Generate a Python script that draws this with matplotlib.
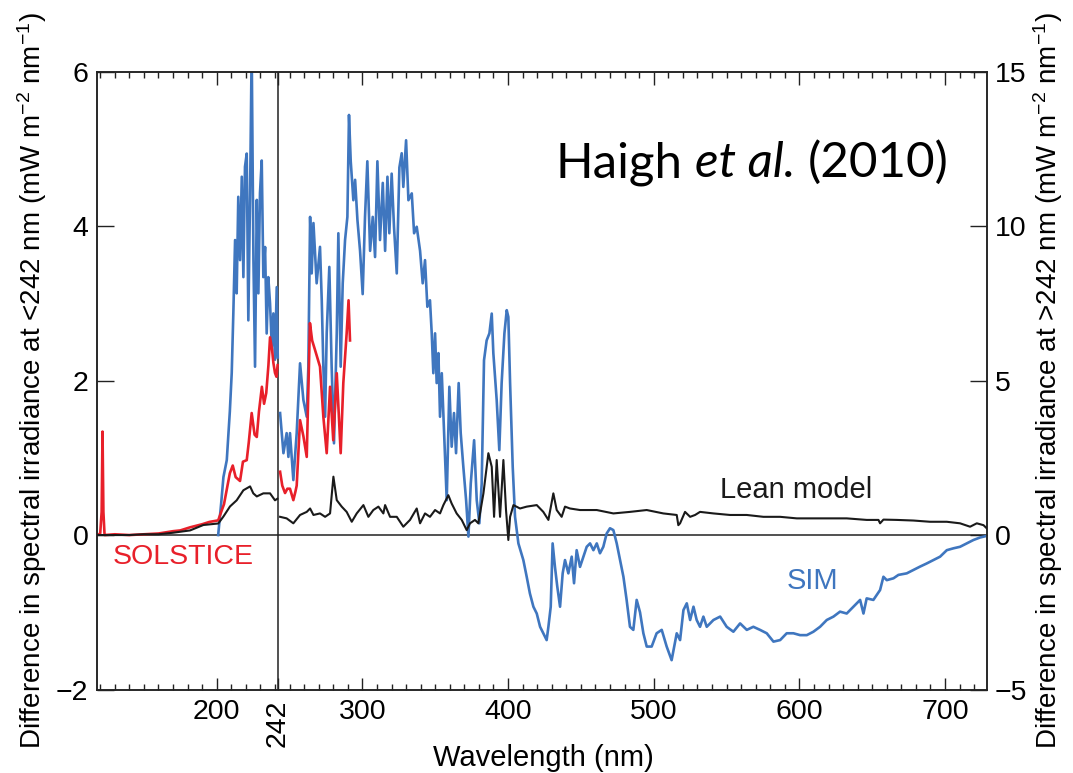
import matplotlib
matplotlib.use("Agg")
import matplotlib.pyplot as plt
from matplotlib.ticker import MultipleLocator, FixedLocator

# ---------------- data ----------------
# SOLSTICE (red), wavelengths < 242 nm, left-axis units
sol_nm_lo = [118, 120, 121.0, 121.6, 122.2, 123, 130, 140, 150, 160, 170, 175, 181.7, 190, 195, 201,
             205, 209, 211, 213, 216, 218, 220.6, 222, 224, 226, 227.5, 229, 231, 232.5, 234, 235.5,
             236.6, 238, 238.9, 240, 241, 241.8]
sol_lo = [0.0, 0.02, 0.3, 1.34, 0.3, 0.0, 0.01, 0.0, 0.01, 0.02, 0.05, 0.06, 0.1, 0.14, 0.17, 0.19,
          0.4, 0.8, 0.9, 0.75, 0.7, 0.95, 0.97, 1.2, 1.58, 1.3, 1.27, 1.6, 1.92, 1.7, 1.84, 2.2,
          2.56, 2.4, 2.23, 2.1, 2.05, 2.2]
# SOLSTICE (red), wavelengths > 242 nm, right-axis units
sol_nm_hi = [243.5, 245, 246.9, 248.5, 250.3, 252.6, 254, 254.9, 257.2, 259.5, 261.8, 264, 265.5,
             267.5, 270.9, 273.2, 275.5, 277.8, 280, 282.4, 285.1, 286.9, 289.2, 290.5, 291.5]
sol_hi = [2.05, 1.6, 1.36, 1.5, 1.5, 1.13, 1.4, 1.6, 3.72, 3.2, 2.53, 6.86, 6.3,
          5.99, 5.45, 3.83, 2.65, 4.8, 3.07, 5.24, 2.65, 4.92, 6.53, 7.6, 6.3]

# SIM (blue), < 242 nm, left-axis units
sim_nm_lo = [201.0, 203, 204.6, 206.9, 209, 210.3, 211.4, 212.6, 213.7, 214.8, 216, 217.2, 218.3,
             219.4, 220.6, 221.7, 222.9, 224.0, 225.2, 226.3, 227.5, 228.6, 229.7, 230.9, 232.0,
             233.2, 234.3, 235.4, 236.6, 237.8, 238.9, 240.0, 241.2, 241.9]
sim_lo = [0.0, 0.4, 0.75, 0.97, 1.6, 2.1, 2.87, 3.82, 3.13, 4.38, 3.56, 4.64, 3.34,
          4.77, 4.94, 2.78, 4.43, 6.3, 3.56, 2.18, 4.34, 3.13, 4.43, 4.85, 3.34,
          3.73, 2.61, 3.34, 3.0, 2.44, 2.87, 2.27, 3.21, 2.3]
# SIM (blue), > 242 nm, right-axis units
sim_nm_hi = [243.5, 245.8, 248.0, 249.2, 250.3, 252.6, 254.9, 257.2, 259.5, 261.8, 262.9, 264.1,
             265.2, 266.4, 268.6, 270.9, 272.1, 273.2, 274.4, 275.5, 277.3, 278.9, 280.5, 282.4,
             283.5, 285.1, 286.5, 288.1, 289.7, 290.8, 292.0, 293.8, 295.0, 296.6, 298.4, 300.2,
             301.8, 303.4, 305.3, 307.1, 308.7, 310.3, 312.1, 314.0, 315.6, 317.2, 318.5, 320.1,
             321.7, 323.6, 325.4, 327.0, 328.1, 330.0, 331.6, 333.9, 335.5, 337.3, 339.6, 341.4,
             343.0, 344.6, 346.4, 347.6, 348.7, 349.9, 351.0, 352.2, 353.3, 354.5, 356.1, 357.9,
             359.7, 361.3, 362.9, 364.3, 366.1, 367.5, 369.3, 371.2, 372.8, 374.4, 376.7, 378.5,
             380.3, 381.9, 383.5, 385.3, 387.2, 388.8, 389.9, 392.2, 394.0, 395.6, 397.5, 399.1,
             400.2, 401.4, 403.2, 404.8, 407.1, 410.5, 412.8, 415.0, 417.4, 419.7, 422.0, 424.2,
             426.5, 427.7, 429.3, 430.6, 432.2, 433.8, 435.7, 437.5, 439.1, 441.4, 443.7, 445.3,
             447.1, 449.4, 451.7, 454.0, 456.3, 458.6, 460.9, 463.1, 465.4, 467.7, 470.0, 472.3,
             474.6, 476.9, 479.2, 481.4, 483.7, 486.0, 488.3, 490.6, 492.9, 495.2, 498.6, 502.0,
             505.5, 508.9, 512.3, 515.8, 518.1, 520.4, 522.7, 525.0, 527.3, 529.5, 531.8, 534.1,
             536.4, 538.7, 541.0, 545.6, 550.1, 554.7, 559.3, 563.9, 568.4, 573.0, 577.6, 582.2,
             586.8, 591.3, 595.9, 600.5, 605.1, 609.6, 614.2, 618.8, 623.4, 627.9, 632.5, 637.1,
             641.7, 644.0, 646.2, 650.8, 655.4, 657.7, 660.0, 664.6, 668.0, 673.7, 678.3, 682.9,
             687.4, 692.0, 696.6, 701.2, 705.7, 710.3, 714.9, 719.5, 724.0, 727.5]
sim_hi = [3.95, 2.65, 3.3, 2.53, 3.3, 1.78, 3.3, 5.56, 4.37, 3.83, 5.45, 10.3,
          8.47, 10.1, 8.15, 9.33, 7.6, 5.45, 3.83, 6.53, 8.68, 5.45, 2.97, 6.53,
          9.77, 5.45, 8.15, 9.55, 10.3, 13.6, 12.1, 10.84, 11.5, 10.2, 9.2, 7.8,
          10.3, 12.1, 9.2, 10.3, 9.0, 12.1, 9.55, 11.4, 9.2, 11.6, 9.77, 11.7,
          9.98, 8.47, 11.9, 12.36, 11.27, 12.78, 10.84, 11.06, 9.77, 9.98, 9.2, 8.15,
          8.9, 7.39, 7.6, 6.53, 5.24, 6.53, 4.92, 5.89, 3.83, 5.24, 3.3, 1.13,
          4.8, 2.86, 3.95, 2.65, 4.92, 3.3, 2.21, 1.13, -0.05, 1.67, 3.07, 1.13,
          0.38, 1.67, 5.66, 6.3, 6.53, 7.17, 5.89, 4.37, 2.75, 4.92, 6.53, 7.28,
          7.06, 4.92, 2.21, 0.59, -0.27, -0.81, -1.35, -1.89, -2.32, -2.54, -2.97, -3.18,
          -3.4, -2.97, -2.32, -0.27, -1.03, -1.67, -2.32, -1.24, -0.81, -1.24, -0.7, -1.56,
          -0.49, -1.03, -0.7, -0.38, -0.27, -0.49, -0.27, -0.59, -0.38, 0.05, 0.22, 0.16,
          -0.27, -0.81, -1.35, -2.1, -2.97, -3.07, -2.1, -2.5, -3.18, -3.61, -3.61, -3.18,
          -3.07, -3.61, -4.05, -3.18, -3.4, -2.43, -2.21, -2.75, -2.32, -2.75, -2.97, -2.64,
          -2.97, -2.86, -2.75, -2.64, -2.97, -3.13, -2.86, -3.07, -2.97, -3.07, -3.18, -3.45,
          -3.4, -3.18, -3.18, -3.24, -3.24, -3.13, -2.97, -2.75, -2.64, -2.48, -2.54, -2.32,
          -2.1, -2.54, -2.05, -2.1, -1.78, -1.35, -1.46, -1.4, -1.29, -1.24, -1.13, -1.02,
          -0.92, -0.81, -0.7, -0.49, -0.43, -0.38, -0.27, -0.16, -0.08, -0.04]

# Lean model (black), < 242 nm, left-axis units
lean_nm_lo = [118, 130, 140, 150, 160, 170, 181.7, 190.8, 201.1, 204.6, 209.1, 213.7, 218.3,
              222.9, 225.1, 227.5, 232, 236.6, 240, 241.6]
lean_lo = [0.0, 0.0, 0.0, 0.01, 0.01, 0.03, 0.06, 0.13, 0.15, 0.24, 0.37, 0.45, 0.58,
           0.63, 0.54, 0.50, 0.54, 0.54, 0.45, 0.47]
# Lean model (black), > 242 nm, right-axis units
lean_nm_hi = [243.5, 248.0, 252.6, 257.2, 261.8, 264.1, 266.4, 270.9, 274.4, 277.8, 280.1, 282.4,
              285.8, 289.2, 292.7, 296.1, 300.7, 304.1, 307.5, 311.0, 314.4, 315.6, 319.0, 323.6,
              328.1, 332.7, 337.3, 339.6, 343.0, 346.4, 349.9, 353.3, 355.6, 359.0, 361.3, 364.7,
              368.2, 371.6, 373.9, 377.3, 379.6, 383.1, 386.5, 388.8, 390.4, 392.2, 394.5, 396.8,
              398.6, 400.2, 401.4, 403.7, 408.2, 412.8, 419.7, 424.2, 427.7, 431.1, 433.4, 436.8,
              439.1, 442.5, 449.4, 460.9, 472.3, 483.7, 495.2, 506.6, 515.8, 516.9, 518.1, 521.5,
              525.0, 528.4, 531.8, 541.0, 552.4, 563.9, 575.3, 586.8, 598.2, 609.6, 621.1, 632.5,
              646.2, 654.3, 655.4, 657.7, 666.9, 678.3, 689.7, 701.2, 710.3, 717.2, 721.8, 726.4,
              728.6]
lean_hi = [0.59, 0.54, 0.38, 0.65, 0.75, 0.86, 0.65, 0.7, 0.59, 0.7, 1.89, 1.13,
           0.92, 0.75, 0.43, 0.7, 0.97, 0.59, 0.81, 0.92, 0.7, 0.97, 0.59, 0.59,
           0.27, 0.49, 0.86, 0.38, 0.7, 0.59, 0.81, 0.7, 0.97, 1.29, 1.02, 0.7,
           0.49, 0.16, 0.38, 0.49, 0.38, 1.35, 2.65, 2.21, 0.59, 2.43, 0.59, 2.43,
           0.81, -0.16, 0.59, 0.97, 0.86, 0.92, 0.97, 0.75, 0.49, 1.35, 0.81, 0.59,
           0.92, 0.86, 0.81, 0.81, 0.7, 0.75, 0.81, 0.7, 0.65, 0.32, 0.38, 0.75,
           0.59, 0.65, 0.75, 0.70, 0.65, 0.65, 0.59, 0.59, 0.54, 0.54, 0.54, 0.54,
           0.49, 0.49, 0.38, 0.5, 0.49, 0.47, 0.43, 0.43, 0.38, 0.27, 0.38, 0.32,
           0.22]

x_major = [200, 242, 300, 400, 500, 600, 700]
x_major_labels = ["200", "242", "300", "400", "500", "600", "700"]
yl_ticks = [-2, 0, 2, 4, 6]
yr_ticks = [-5, 0, 5, 10, 15]

# ---------------- style ----------------
plt.rcParams['font.family'] = ['Liberation Sans', 'DejaVu Sans']
plt.rcParams['mathtext.default'] = 'regular'
BLUE = '#3f76bf'
RED = '#e8202a'
BLACK = '#1a1a1a'
FS = 20.5

fig = plt.figure(figsize=(10.73, 7.73), dpi=100)
ax = fig.add_axes([0.09012, 0.10802, 0.82945, 0.79922])
ax2 = ax.twinx()

ax.set_xlim(117.6, 728.6)
ax.set_ylim(-2, 6)
ax2.set_ylim(-5, 15)

# lines
ax.plot(sim_nm_lo, sim_lo, color=BLUE, lw=1.9, zorder=2)
ax.plot(sol_nm_lo, sol_lo, color=RED, lw=1.9, zorder=3)
ax.plot(lean_nm_lo, lean_lo, color=BLACK, lw=1.5, zorder=4)
ax2.plot(sim_nm_hi, sim_hi, color=BLUE, lw=1.9, zorder=2)
ax2.plot(sol_nm_hi, sol_hi, color=RED, lw=1.9, zorder=3)
ax2.plot(lean_nm_hi, lean_hi, color=BLACK, lw=1.5, zorder=4)

ax.axhline(0, color='#222222', lw=1.1, zorder=1)
ax.axvline(242, color='#222222', lw=1.1, zorder=1)

# ticks
ax.xaxis.set_major_locator(FixedLocator(x_major))
ax.set_xticklabels(x_major_labels)
ax.xaxis.set_minor_locator(MultipleLocator(10))
ax.set_yticks(yl_ticks)
ax2.set_yticks(yr_ticks)
ax.tick_params(axis='x', which='major', direction='in', length=9, width=1.0, top=True,
               labelsize=FS, pad=7, color='#222222')
ax.tick_params(axis='x', which='minor', direction='in', length=4.5, width=1.0, top=True,
               color='#222222')
ax.tick_params(axis='y', which='major', direction='in', length=12, width=1.0, labelsize=FS,
               pad=6, color='#222222')
ax2.tick_params(axis='y', which='major', direction='in', length=12, width=1.0, labelsize=FS,
                pad=6, color='#222222')
for lab in ax.get_xticklabels():
    if lab.get_text() == "242":
        lab.set_rotation(90)

for a in (ax, ax2):
    for s in a.spines.values():
        s.set_linewidth(1.1)
        s.set_color('#222222')

ax.set_xlabel('Wavelength (nm)', fontsize=FS + 0.5, va='top')
ax.xaxis.set_label_coords(0.5015, -0.088)
ax.set_ylabel('Difference in spectral irradiance at <242 nm (mW m$^{-2}$ nm$^{-1}$)',
              fontsize=20, va='center')
ax.yaxis.set_label_coords(-0.073, 0.5)
ax2.set_ylabel('Difference in spectral irradiance at >242 nm (mW m$^{-2}$ nm$^{-1}$)',
               fontsize=20, va='center')
ax2.yaxis.set_label_coords(1.0685, 0.5)

# annotations
ax.text(177, -0.285, 'SOLSTICE', color=RED, fontsize=FS, ha='center', va='center')
ax2.text(608.7, -1.49, 'SIM', color=BLUE, fontsize=FS + 0.5, ha='center', va='center')
ax2.text(597.7, 1.46, 'Lean model', color=BLACK, fontsize=FS + 0.5, ha='center', va='center')

# citation text
W, H = 1073, 773
fs = 35.5
renderer = fig.canvas.get_renderer()
x0, yb = 555, 177
t1 = fig.text(x0 / W, 1 - yb / H, 'Haigh', fontsize=fs, family=['Lato', 'DejaVu Sans'],
              va='baseline', ha='left')
bb = t1.get_window_extent(renderer)
gap = fs * 100 / 72 * 0.26
t2 = fig.text((bb.x1 + gap) / W, 1 - yb / H, 'et al.', fontsize=fs, style='italic',
              family=['Lato', 'DejaVu Sans'], va='baseline', ha='left')
bb2 = t2.get_window_extent(renderer)
fig.text((bb2.x1 + gap) / W, 1 - yb / H, '(2010)', fontsize=fs, family=['Lato', 'DejaVu Sans'],
         va='baseline', ha='left')

fig.savefig('out.png', dpi=100)
